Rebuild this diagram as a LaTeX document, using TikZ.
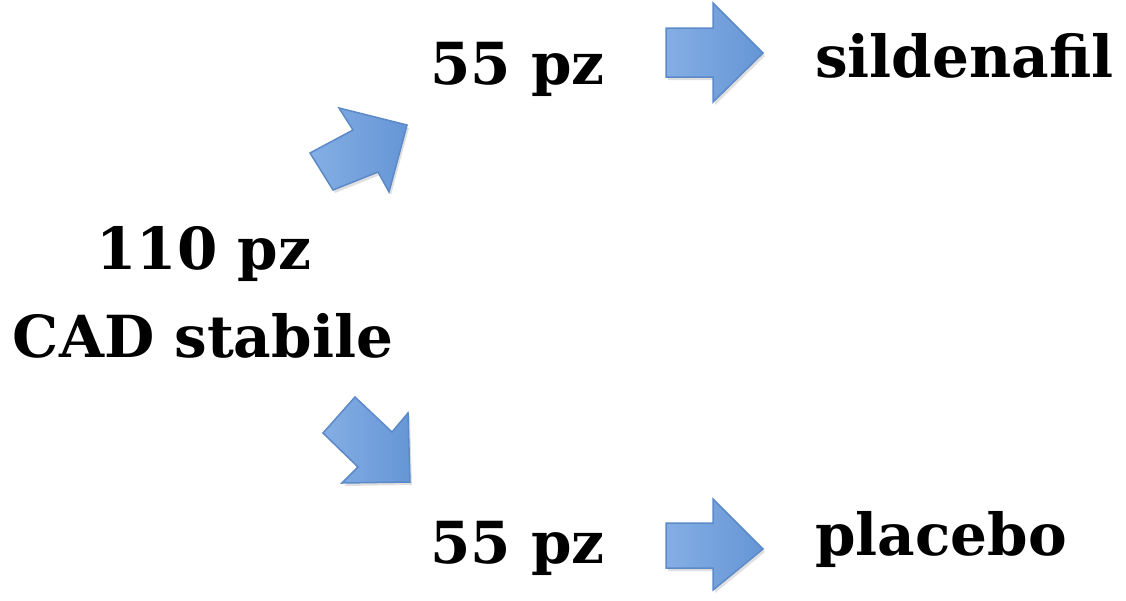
\documentclass[tikz,border=0pt]{standalone}
\usepackage{fontspec}
\setmainfont{DejaVu Serif}
\usetikzlibrary{shadows}
\definecolor{arrowfill}{RGB}{132,174,228}
\definecolor{arrowfill2}{RGB}{102,150,214}
\definecolor{arrowline}{RGB}{92,138,200}
\tikzset{
  blockarrow/.style={draw=arrowline, line width=1.5pt, left color=arrowfill, right color=arrowfill2, line join=miter,
    drop shadow={shadow xshift=2pt, shadow yshift=-3pt, opacity=0.25}},
  label/.style={font=\bfseries\fontsize{58}{68}\selectfont, inner sep=0pt, anchor=base west}
}
\begin{document}
\begin{tikzpicture}[x=1pt,y=-1pt]
\useasboundingbox (0,0) rectangle (1126,600);
% texts
\node[label, anchor=base] (src1) at (204,269) {110 pz};
\node[label, anchor=base] (src2) at (203,357) {CAD stabile};
\node[label] (top) at (430,84) {55 pz};
\node[label] (sil) at (815,77) {sildenafil};
\node[label] (bot) at (430,563) {55 pz};
\node[label] (pla) at (815,555) {placebo};
% block arrows
\draw[blockarrow] (339,108) -- (353,130) -- (310,153) -- (333,190) -- (378,172) -- (389,192) -- (407,125) -- cycle;
\draw[blockarrow] (355,397) -- (323,433) -- (358,467) -- (342,483) -- (410,482) -- (408,413) -- (392,432) -- cycle;
\draw[blockarrow] (666,28) -- (713,28) -- (713,3) -- (763,53) -- (713,102) -- (713,77) -- (666,77) -- cycle;
\draw[blockarrow] (666,523) -- (713,523) -- (713,499) -- (763,549) -- (713,590) -- (713,568) -- (666,568) -- cycle;
\end{tikzpicture}
\end{document}
